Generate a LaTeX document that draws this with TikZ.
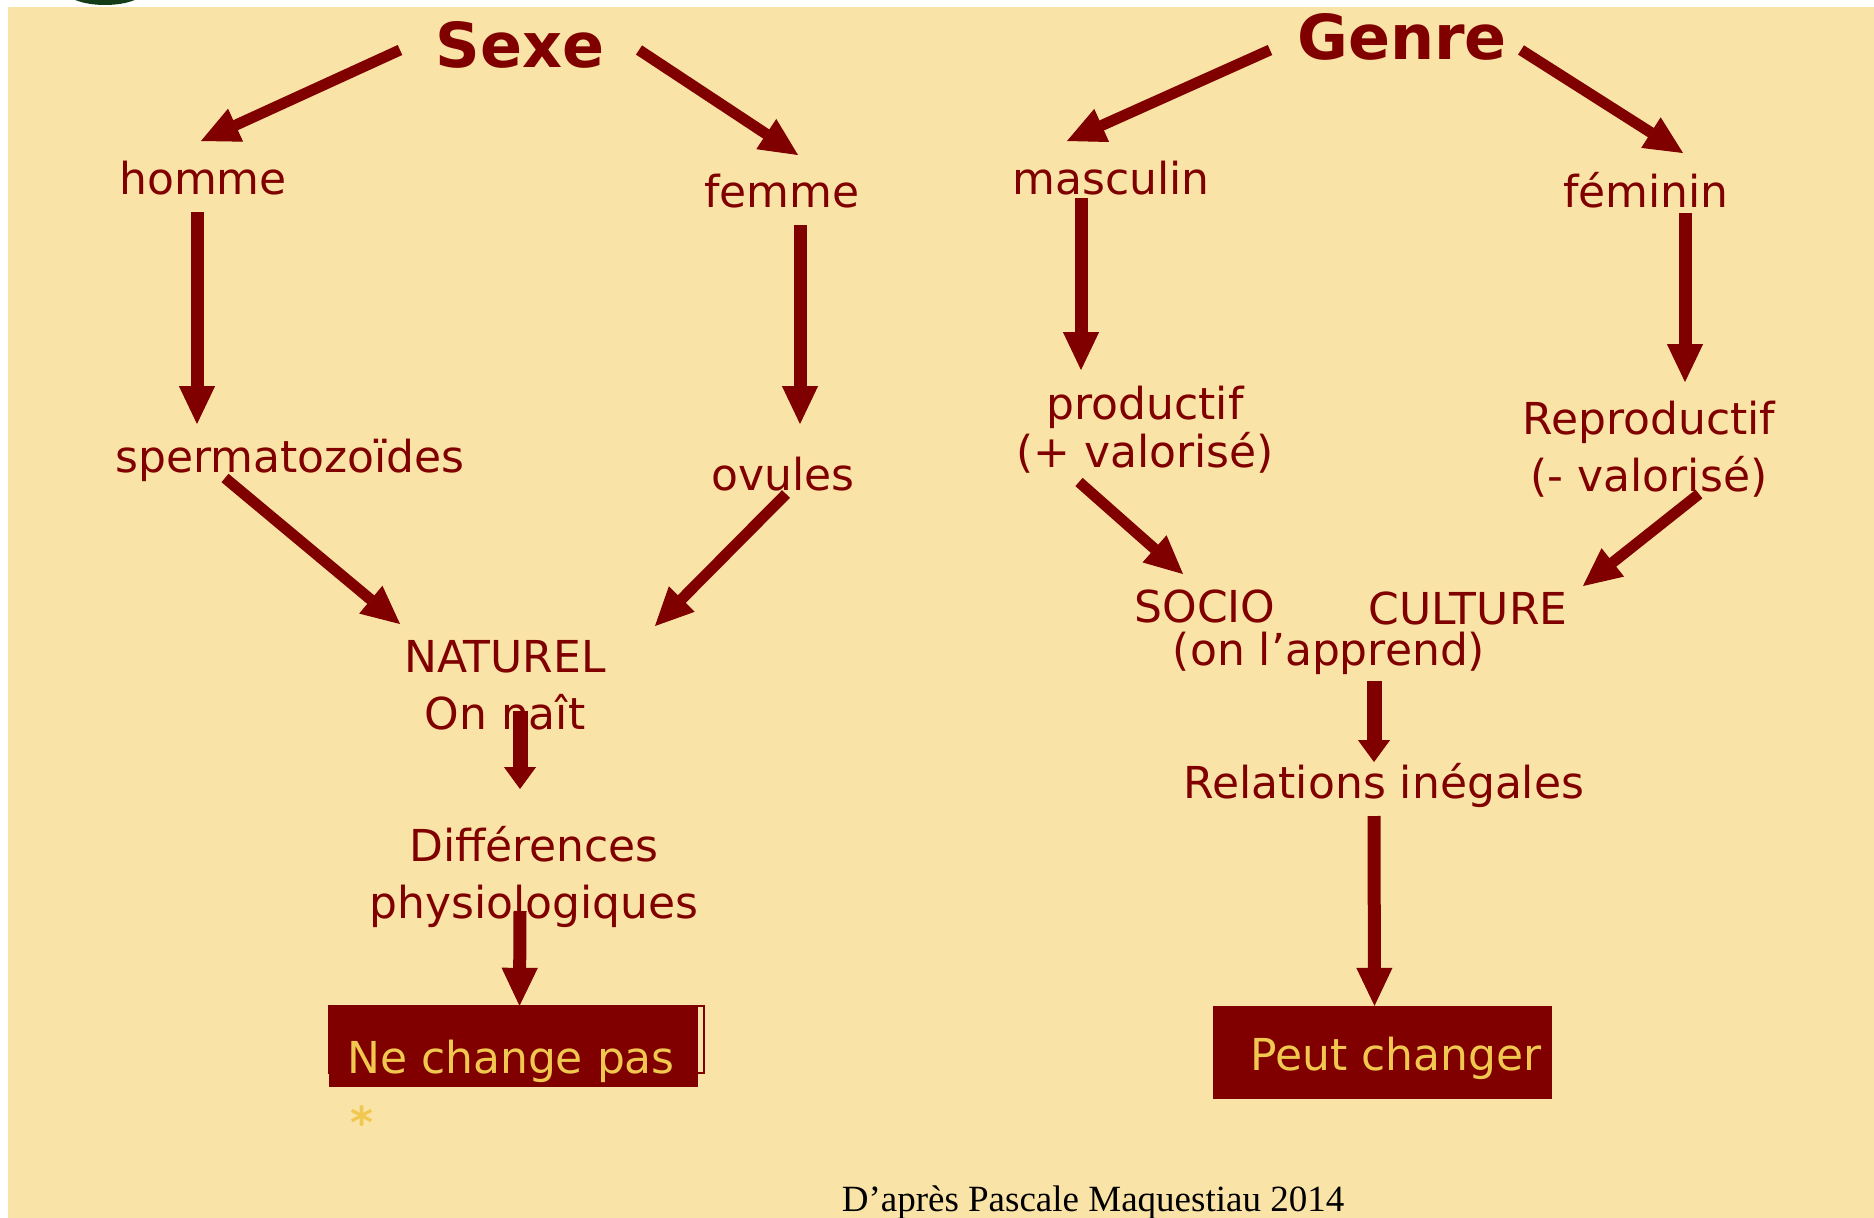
\documentclass[tikz,border=0pt]{standalone}
\usepackage{fontspec}
\setmainfont{DejaVu Sans}
\newfontfamily\creditfont{Liberation Serif}
\usetikzlibrary{arrows.meta, calc}
\definecolor{bordeaux}{RGB}{128,0,0}
\definecolor{parchment}{RGB}{250,227,166}
\definecolor{gold}{RGB}{240,200,80}
\definecolor{logogreen}{RGB}{20,60,25}
\tikzset{title/.style={text=bordeaux, font=\bfseries\fontsize{62}{70}\selectfont, inner sep=0pt}}
\tikzset{word/.style={text=bordeaux, font=\fontsize{44}{57}\selectfont, inner sep=0pt, align=center}}
\tikzset{bigarrow/.style={draw=bordeaux, line width=13pt, -{Triangle[length=38pt, width=36pt, line width=1pt]}}}
\tikzset{diagarrow/.style={bigarrow, line width=11pt}}
\tikzset{shortarrow/.style={bigarrow, line width=15pt, -{Triangle[length=22pt, width=32pt, line width=1pt]}}}
\tikzset{verdict/.style={fill=bordeaux, inner sep=0pt}}
\tikzset{verdicttext/.style={text=gold, font=\fontsize{44}{50}\selectfont, inner sep=0pt}}

\begin{document}
\begin{tikzpicture}[x=1pt, y=-1pt]
                \useasboundingbox (0,0) rectangle (1874,1218);
                \fill[white] (0,0) rectangle (1874,1218);
                \fill[parchment] (8,7) rectangle (1874,1218);
                \begin{scope}
                    \clip (0,0) rectangle (1874,1218);
                    \fill[logogreen] (105,-12) ellipse [x radius=42pt, y radius=17pt];
                \end{scope}
                
                \node[title] (sexe) at (520,45) {Sexe};
                \node[word] (homme) at (203,178) {homme};
                \node[word] (femme) at (782,191) {femme};
                \node[word] (sperm) at (290,460) {spermatozoïdes};
                \node[word] (ovules) at (783,474) {ovules};
                \node[word] (naturel) at (505,685) {NATUREL\\On naît};
                \node[word] (diff) at (534,877) {Différences\\physiologiques};
                \draw[bordeaux, line width=1.5pt] (329,1006) rectangle (704,1073);
                \node[verdict, minimum width=369pt, minimum height=81pt] (nochangebox) at (513.5,1046.5) {};
                \node[verdicttext] (nochange) at (511,1061) {Ne change pas};
                \node[text=gold, font=\bfseries\fontsize{44}{44}\selectfont, inner sep=0pt] (star) at (362,1122) {*};
                
                \node[title] (genre) at (1402,37) {Genre};
                \node[word] (masculin) at (1111,178) {masculin};
                \node[word] (feminin) at (1646,190) {féminin};
                \node[word, font=\fontsize{44}{48}\selectfont] (productif) at (1145,430) {productif\\(+ valorisé)};
                \node[word] (reproductif) at (1649,449) {Reproductif\\(- valorisé)};
                \node[word] (socio) at (1205,606) {SOCIO};
                \node[word] (culture) at (1468,608) {CULTURE};
                \node[word] (apprend) at (1329,653) {(on l’apprend)};
                \node[word] (relations) at (1384,785) {Relations inégales};
                \node[verdict, minimum width=339pt, minimum height=93pt] (peutbox) at (1382.5,1052.5) {};
                \node[verdicttext] (peut) at (1396,1058) {Peut changer};
                
                \node[font=\creditfont\fontsize{37}{40}\selectfont, inner sep=0pt] (credit) at (1093,1203) {D’après Pascale Maquestiau 2014};
                
                \draw[diagarrow] ($(sexe)+(-120,5)$) -- ($(homme)+(-2,-37)$);
                \draw[diagarrow] ($(sexe)+(119,5)$) -- ($(femme)+(16,-36)$);
                \draw[bigarrow] ($(homme)+(-6,34)$) -- ($(sperm)+(-93,-36)$);
                \draw[bigarrow] ($(femme)+(18,34)$) -- ($(ovules)+(17,-50)$);
                \draw[diagarrow] ($(sperm)+(-65,18)$) -- ($(naturel)+(-105,-61)$);
                \draw[diagarrow] ($(ovules)+(3,20)$) -- ($(naturel)+(150,-59)$);
                \draw[shortarrow] ($(naturel)+(15,26)$) -- ($(diff)+(-14,-88)$);
                \draw[bigarrow] ($(diff)+(-14,34)$) -- ($(nochangebox.north)+(6,0)$);
                
                \draw[diagarrow] ($(genre)+(-132,13)$) -- ($(masculin)+(-44,-37)$);
                \draw[diagarrow] ($(genre)+(119,13)$) -- ($(feminin)+(37,-37)$);
                \draw[bigarrow] ($(masculin)+(-30,20)$) -- ($(productif)+(-64,-60)$);
                \draw[bigarrow] ($(feminin)+(39,23)$) -- ($(reproductif)+(36,-67)$);
                \draw[diagarrow] ($(productif)+(-66,52)$) -- ($(socio)+(-22,-32)$);
                \draw[diagarrow] ($(reproductif)+(50,45)$) -- ($(culture)+(115,-22)$);
                \draw[shortarrow] ($(apprend)+(45,28)$) -- ($(relations)+(-10,-23)$);
                \draw[bigarrow] ($(relations)+(-10,31)$) -- ($(peutbox.north)+(-8,0)$);
            \end{tikzpicture}
\end{document}
